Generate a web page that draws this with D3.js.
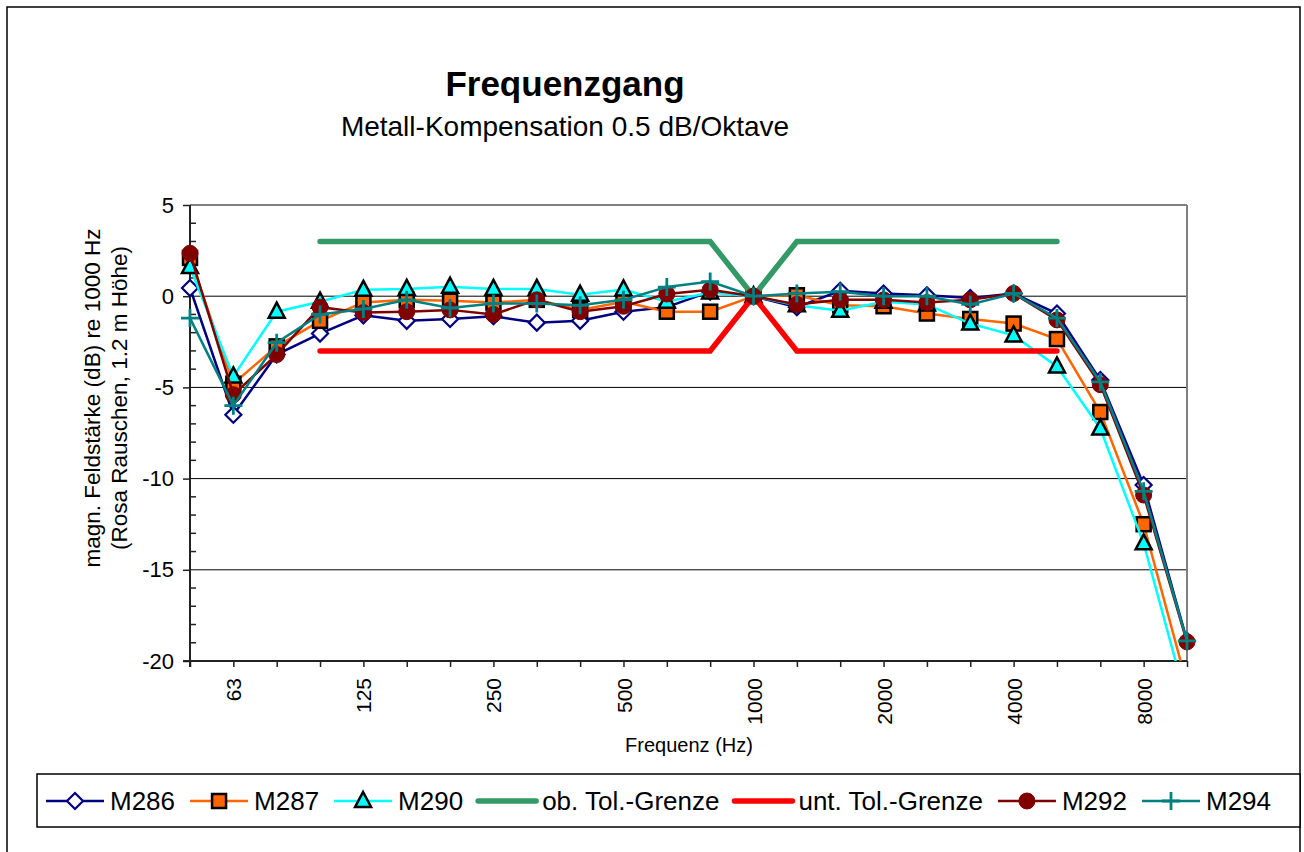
<!DOCTYPE html>
<html><head><meta charset="utf-8">
<script src="https://cdn.jsdelivr.net/npm/d3@7"></script>
<style>body{margin:0;background:#fff}svg{display:block;font-family:"Liberation Sans",Arial,sans-serif}</style>
</head><body><svg id="c" width="1304" height="852"></svg>
<script>
const freqs = ["50","63","80","100","125","160","200","250","315","400","500","630","800","1000","1250","1600","2000","2500","3150","4000","5000","6300","8000","10000"];
const tickLabels = ["63","125","250","500","1000","2000","4000","8000"];
const yTicks = [5,0,-5,-10,-15,-20];
const M286 = [0.45,-6.5,-3.2,-2.05,-1.05,-1.35,-1.25,-1.1,-1.45,-1.35,-0.85,-0.6,0.25,0,-0.6,0.3,0.15,0.05,-0.1,0.15,-0.95,-4.6,-10.35,-18.9];
const M287 = [2.1,-4.8,-2.75,-1.35,-0.35,-0.2,-0.25,-0.35,-0.2,-0.75,-0.3,-0.85,-0.85,0,0.05,-0.5,-0.55,-0.95,-1.25,-1.5,-2.35,-6.35,-12.5,-21.3];
const M290 = [1.6,-4.4,-0.85,-0.3,0.35,0.4,0.52,0.4,0.4,0.08,0.37,-0.3,0.2,0,-0.5,-0.8,-0.3,-0.45,-1.5,-2.15,-3.85,-7.25,-13.55,-22.3];
const obTol = [null,null,null,3,3,3,3,3,3,3,3,3,3,0,3,3,3,3,3,3,3,null,null,null];
const untTol = [null,null,null,-3,-3,-3,-3,-3,-3,-3,-3,-3,-3,0,-3,-3,-3,-3,-3,-3,-3,null,null,null];
const M292 = [2.35,-5.4,-3.2,-0.6,-0.9,-0.85,-0.75,-1.0,-0.2,-0.85,-0.55,0.12,0.35,0,-0.45,-0.2,-0.2,-0.35,-0.2,0.15,-1.3,-4.85,-10.9,-18.95];
const M294 = [-1.2,-6.0,-2.55,-1.0,-0.7,-0.2,-0.65,-0.4,-0.4,-0.5,-0.2,0.5,0.8,0,0.15,0.25,0,0,-0.45,0.15,-1.2,-4.7,-10.7,-18.9];

const series = [
  {name:"M286", values:M286, color:"#000080", width:2.5, marker:"diamond", fill:"#ffffff", mstroke:"#000080"},
  {name:"M287", values:M287, color:"#FF6600", width:2.5, marker:"square", fill:"#FF6600", mstroke:"#000000"},
  {name:"M290", values:M290, color:"#00FFFF", width:2.5, marker:"triangle", fill:"#00FFFF", mstroke:"#000000"},
  {name:"ob. Tol.-Grenze", values:obTol, color:"#339966", width:5.5, marker:null},
  {name:"unt. Tol.-Grenze", values:untTol, color:"#FF0000", width:5.5, marker:null},
  {name:"M292", values:M292, color:"#800000", width:2.5, marker:"circle", fill:"#800000", mstroke:"#800000"},
  {name:"M294", values:M294, color:"#008080", width:2.5, marker:"plus", fill:"none", mstroke:"#008080"}
];

const svg = d3.select("#c");
const L=190, R=1187, T=205, B=661;
const x = d3.scalePoint().domain(freqs).range([L,R]);
const y = d3.scaleLinear().domain([-20,5]).range([B,T]);

svg.append("rect").attr("x",7).attr("y",7).attr("width",1293).attr("height",860)
  .attr("fill","#fff").attr("stroke","#000").attr("stroke-width",1.5);

svg.append("text").attr("x",565).attr("y",96).attr("text-anchor","middle")
  .attr("font-size",35).attr("font-weight","bold").text("Frequenzgang");
svg.append("text").attr("x",565).attr("y",136).attr("text-anchor","middle")
  .attr("font-size",28).text("Metall-Kompensation 0.5 dB/Oktave");

const g = svg.append("g");
g.selectAll("line.grid").data([0,-5,-10,-15]).join("line")
  .attr("x1",L).attr("x2",R).attr("y1",d=>y(d)).attr("y2",d=>y(d))
  .attr("stroke","#000").attr("stroke-width",1);
g.append("line").attr("x1",L).attr("x2",R).attr("y1",T).attr("y2",T).attr("stroke","#808080").attr("stroke-width",2);
g.append("line").attr("x1",R).attr("x2",R).attr("y1",T).attr("y2",B).attr("stroke","#808080").attr("stroke-width",2);

const yAxis = g.append("g").attr("transform",`translate(${L},0)`)
  .call(d3.axisLeft(y).tickValues(yTicks).tickSize(7).tickFormat(d=>String(d)));
yAxis.select(".domain").remove();
yAxis.selectAll(".tick line").attr("stroke","#222").attr("stroke-width",1.5);
yAxis.selectAll(".tick text").attr("font-size",22).attr("font-family","Liberation Sans, Arial, sans-serif").attr("fill","#000").attr("x",-16);
const minor = d3.range(-20,6,1).filter(v=>v%5!==0);
g.selectAll("line.minor").data(minor).join("line")
  .attr("x1",L).attr("x2",L+6).attr("y1",d=>y(d)).attr("y2",d=>y(d))
  .attr("stroke","#222").attr("stroke-width",1.5);

const xAxis = g.append("g").attr("transform",`translate(0,${B})`)
  .call(d3.axisBottom(x).tickSize(6).tickFormat(d=>tickLabels.includes(d)?d:""));
xAxis.select(".domain").remove();
xAxis.selectAll(".tick line").attr("stroke","#222").attr("stroke-width",1.5);
xAxis.selectAll(".tick text").attr("font-size",21).attr("font-family","Liberation Sans, Arial, sans-serif").attr("fill","#000")
  .attr("transform","rotate(-90)").attr("text-anchor","end").attr("x",-17).attr("y",0).attr("dy","0.36em");
g.append("line").attr("x1",L-7).attr("x2",R).attr("y1",B).attr("y2",B).attr("stroke","#222").attr("stroke-width",2);
g.append("line").attr("x1",L).attr("x2",L).attr("y1",T).attr("y2",B+6).attr("stroke","#222").attr("stroke-width",2);

svg.append("text").attr("x",689).attr("y",752).attr("text-anchor","middle").attr("font-size",20).text("Frequenz (Hz)");
svg.append("text").attr("transform","translate(92,398) rotate(-90)").attr("text-anchor","middle")
  .attr("dominant-baseline","central").attr("font-size",22.5).text("magn. Feldstärke (dB) re 1000 Hz");
svg.append("text").attr("transform","translate(119,398) rotate(-90)").attr("text-anchor","middle")
  .attr("dominant-baseline","central").attr("font-size",22.5).text("(Rosa Rauschen, 1.2 m Höhe)");

svg.append("clipPath").attr("id","plotclip").append("rect").attr("x",L-20).attr("y",T-20).attr("width",R-L+40).attr("height",B-T+20);

function drawMarker(sel, s, cx, cy){
  const m = s.marker;
  if(m==="diamond"){
    sel.append("path").attr("d",`M${cx},${cy-8}L${cx+8},${cy}L${cx},${cy+8}L${cx-8},${cy}Z`)
      .attr("fill",s.fill).attr("stroke",s.mstroke).attr("stroke-width",2.2);
  } else if(m==="square"){
    sel.append("rect").attr("x",cx-7).attr("y",cy-7).attr("width",14).attr("height",14)
      .attr("fill",s.fill).attr("stroke",s.mstroke).attr("stroke-width",2.5);
  } else if(m==="triangle"){
    sel.append("path").attr("d",`M${cx},${cy-9}L${cx+8},${cy+6}L${cx-8},${cy+6}Z`)
      .attr("fill",s.fill).attr("stroke",s.mstroke).attr("stroke-width",2.5).attr("stroke-linejoin","miter");
  } else if(m==="circle"){
    sel.append("circle").attr("cx",cx).attr("cy",cy).attr("r",8).attr("fill",s.fill).attr("stroke",s.mstroke);
  } else if(m==="plus"){
    sel.append("path").attr("d",`M${cx-9},${cy}H${cx+9}M${cx},${cy-9}V${cy+9}`)
      .attr("stroke",s.mstroke).attr("stroke-width",2.8).attr("fill","none");
  }
}

const plot = svg.append("g").attr("clip-path","url(#plotclip)");
const line = d3.line().defined(d=>d.v!==null).x(d=>x(d.f)).y(d=>y(d.v));
series.forEach(s=>{
  const pts = freqs.map((f,i)=>({f, v:s.values[i]}));
  const gs = plot.append("g");
  gs.append("path").datum(pts).attr("d",line).attr("fill","none").attr("stroke",s.color)
    .attr("stroke-width",s.width).attr("stroke-linecap",s.marker?"butt":"round").attr("stroke-linejoin","miter");
  if(s.marker){
    pts.filter(d=>d.v!==null && d.v>=-20).forEach(d=>drawMarker(gs,s,x(d.f),y(d.v)));
  }
});

const lg = svg.append("g");
lg.append("rect").attr("x",37).attr("y",774).attr("width",1263).attr("height",53).attr("fill","#fff").attr("stroke","#000").attr("stroke-width",1.5);
const ly = 801;
let cx0 = 46;
series.forEach(s=>{
  const it = lg.append("g").attr("transform",`translate(${cx0},0)`);
  const lw = 58;
  it.append("line").attr("x1",0).attr("x2",lw).attr("y1",ly).attr("y2",ly).attr("stroke",s.color).attr("stroke-width",s.width).attr("stroke-linecap",s.marker?"butt":"round");
  if(s.marker) drawMarker(it,s,lw/2,ly);
  const t = it.append("text").attr("x",lw+6).attr("y",ly).attr("dy","0.36em").attr("font-size",26).text(s.name);
  const w = t.node().getComputedTextLength();
  cx0 += lw+6+w+15;
});
</script></body></html>
